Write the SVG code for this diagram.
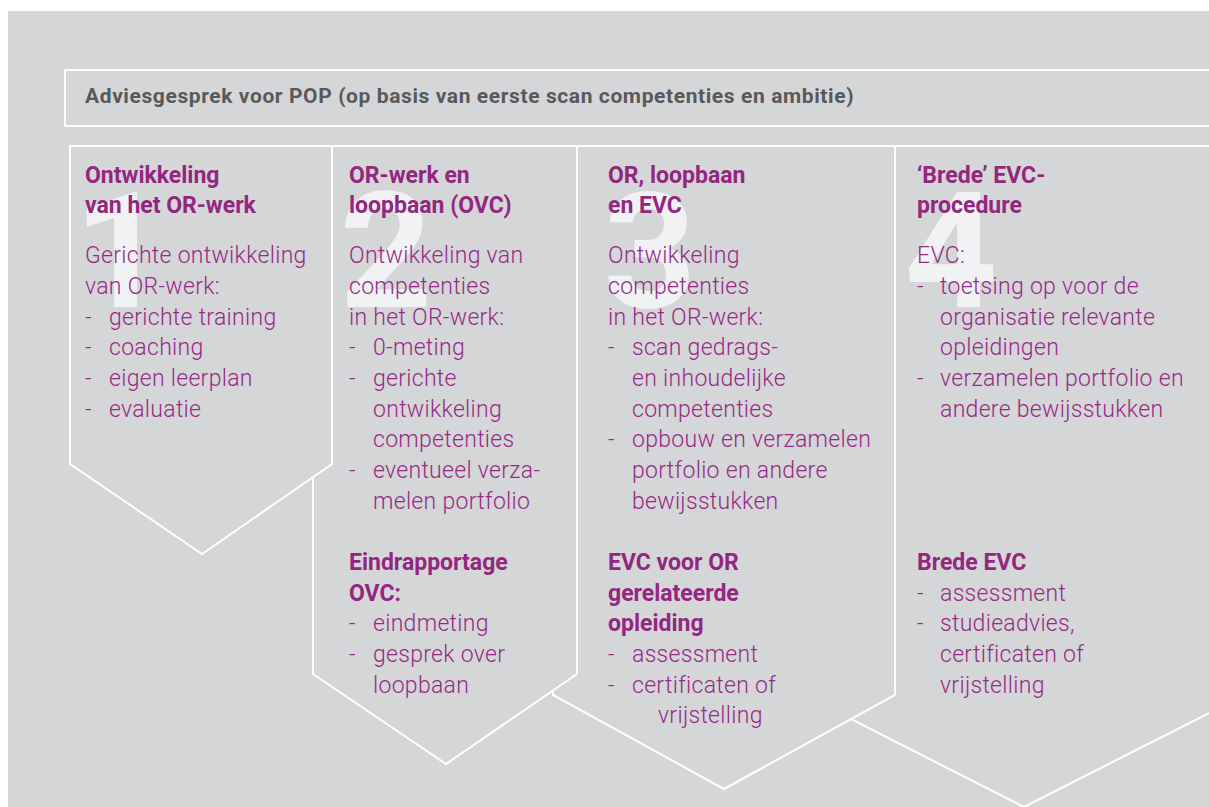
<svg xmlns="http://www.w3.org/2000/svg" width="1209" height="807" viewBox="0 0 1209 807">
  <style>
    .frame { fill: #d5d6d8; stroke: #ffffff; stroke-width: 2; }
    .num { font-family: Roboto, "Liberation Sans", sans-serif; font-weight: 700; font-size: 162px; fill: #f1f2f4; text-anchor: middle; }
    .h { font-family: Roboto, "Liberation Sans", sans-serif; font-weight: 700; font-size: 23px; fill: #93277f; }
    .b { font-family: Roboto, "Liberation Sans", sans-serif; font-weight: 300; font-size: 23px; letter-spacing: 0.3px; fill: #952b86; }
    .title { font-family: Roboto, "Liberation Sans", sans-serif; font-weight: 700; font-size: 21px; letter-spacing: 0.6px; fill: #58595b; }
  </style>

  <rect width="1209" height="807" fill="#ffffff"/>
  <rect x="8" y="11" width="1201" height="796" fill="#d5d6d8"/>

  <!-- header bar -->
  <g id="header">
    <rect class="frame" x="65" y="70" width="1160" height="56"/>
    <text class="title" x="85" y="103">Adviesgesprek voor POP (op basis van eerste scan competenties en ambitie)</text>
  </g>

  <!-- step shapes, drawn back to front -->
  <g id="connectors">
    <path class="frame" d="M837,146 H1215 V710 L1024,807 L837,712 Z"/>
    <path class="frame" d="M553,146 H895 V695 L724,789 L553,695 Z"/>
    <path class="frame" d="M313,146 H577 V674 L446,764 L313,674 Z"/>
    <path class="frame" d="M70,146 H332 V464 L202,554 L70,464 Z"/>
  </g>

  <g id="step1">
    <text class="num" x="120" y="307">1</text>
    <text class="h"><tspan x="85" y="183">Ontwikkeling</tspan><tspan x="85" y="213">van het OR-werk</tspan></text>
    <text class="b">
      <tspan x="85" y="263">Gerichte ontwikkeling</tspan>
      <tspan x="85" y="294">van OR-werk:</tspan>
      <tspan x="85" y="325">-</tspan><tspan x="109" y="325">gerichte training</tspan>
      <tspan x="85" y="355">-</tspan><tspan x="109" y="355">coaching</tspan>
      <tspan x="85" y="386">-</tspan><tspan x="109" y="386">eigen leerplan</tspan>
      <tspan x="85" y="417">-</tspan><tspan x="109" y="417">evaluatie</tspan>
    </text>
  </g>

  <g id="step2">
    <text class="num" x="386" y="307">2</text>
    <text class="h"><tspan x="349" y="183">OR-werk en</tspan><tspan x="349" y="213">loopbaan (OVC)</tspan></text>
    <text class="b">
      <tspan x="349" y="263">Ontwikkeling van</tspan>
      <tspan x="349" y="294">competenties</tspan>
      <tspan x="349" y="325">in het OR-werk:</tspan>
      <tspan x="349" y="355">-</tspan><tspan x="373" y="355">0-meting</tspan>
      <tspan x="349" y="386">-</tspan><tspan x="373" y="386">gerichte</tspan>
      <tspan x="373" y="417">ontwikkeling</tspan>
      <tspan x="373" y="447">competenties</tspan>
      <tspan x="349" y="478">-</tspan><tspan x="373" y="478">eventueel verza-</tspan>
      <tspan x="373" y="509">melen portfolio</tspan>
    </text>
    <text class="h"><tspan x="349" y="570">Eindrapportage</tspan><tspan x="349" y="601">OVC:</tspan></text>
    <text class="b">
      <tspan x="349" y="631">-</tspan><tspan x="373" y="631">eindmeting</tspan>
      <tspan x="349" y="662">-</tspan><tspan x="373" y="662">gesprek over</tspan>
      <tspan x="373" y="693">loopbaan</tspan>
    </text>
  </g>

  <g id="step3">
    <text class="num" x="650" y="307">3</text>
    <text class="h"><tspan x="608" y="183">OR, loopbaan</tspan><tspan x="608" y="213">en EVC</tspan></text>
    <text class="b">
      <tspan x="608" y="263">Ontwikkeling</tspan>
      <tspan x="608" y="294">competenties</tspan>
      <tspan x="608" y="325">in het OR-werk:</tspan>
      <tspan x="608" y="355">-</tspan><tspan x="632" y="355">scan gedrags-</tspan>
      <tspan x="632" y="386">en inhoudelijke</tspan>
      <tspan x="632" y="417">competenties</tspan>
      <tspan x="608" y="447">-</tspan><tspan x="632" y="447">opbouw en verzamelen</tspan>
      <tspan x="632" y="478">portfolio en andere</tspan>
      <tspan x="632" y="509">bewijsstukken</tspan>
    </text>
    <text class="h"><tspan x="608" y="570">EVC voor OR</tspan><tspan x="608" y="601">gerelateerde</tspan><tspan x="608" y="631">opleiding</tspan></text>
    <text class="b">
      <tspan x="608" y="662">-</tspan><tspan x="632" y="662">assessment</tspan>
      <tspan x="608" y="693">-</tspan><tspan x="632" y="693">certificaten of</tspan>
      <tspan x="658" y="723">vrijstelling</tspan>
    </text>
  </g>

  <g id="step4">
    <text class="num" x="951" y="307">4</text>
    <text class="h"><tspan x="917" y="183">‘Brede’ EVC-</tspan><tspan x="917" y="213">procedure</tspan></text>
    <text class="b">
      <tspan x="917" y="263">EVC:</tspan>
      <tspan x="917" y="294">-</tspan><tspan x="940" y="294">toetsing op voor de</tspan>
      <tspan x="940" y="325">organisatie relevante</tspan>
      <tspan x="940" y="355">opleidingen</tspan>
      <tspan x="917" y="386">-</tspan><tspan x="940" y="386">verzamelen portfolio en</tspan>
      <tspan x="940" y="417">andere bewijsstukken</tspan>
    </text>
    <text class="h"><tspan x="917" y="570">Brede EVC</tspan></text>
    <text class="b">
      <tspan x="917" y="601">-</tspan><tspan x="940" y="601">assessment</tspan>
      <tspan x="917" y="631">-</tspan><tspan x="940" y="631">studieadvies,</tspan>
      <tspan x="940" y="662">certificaten of</tspan>
      <tspan x="940" y="693">vrijstelling</tspan>
    </text>
  </g>
</svg>
